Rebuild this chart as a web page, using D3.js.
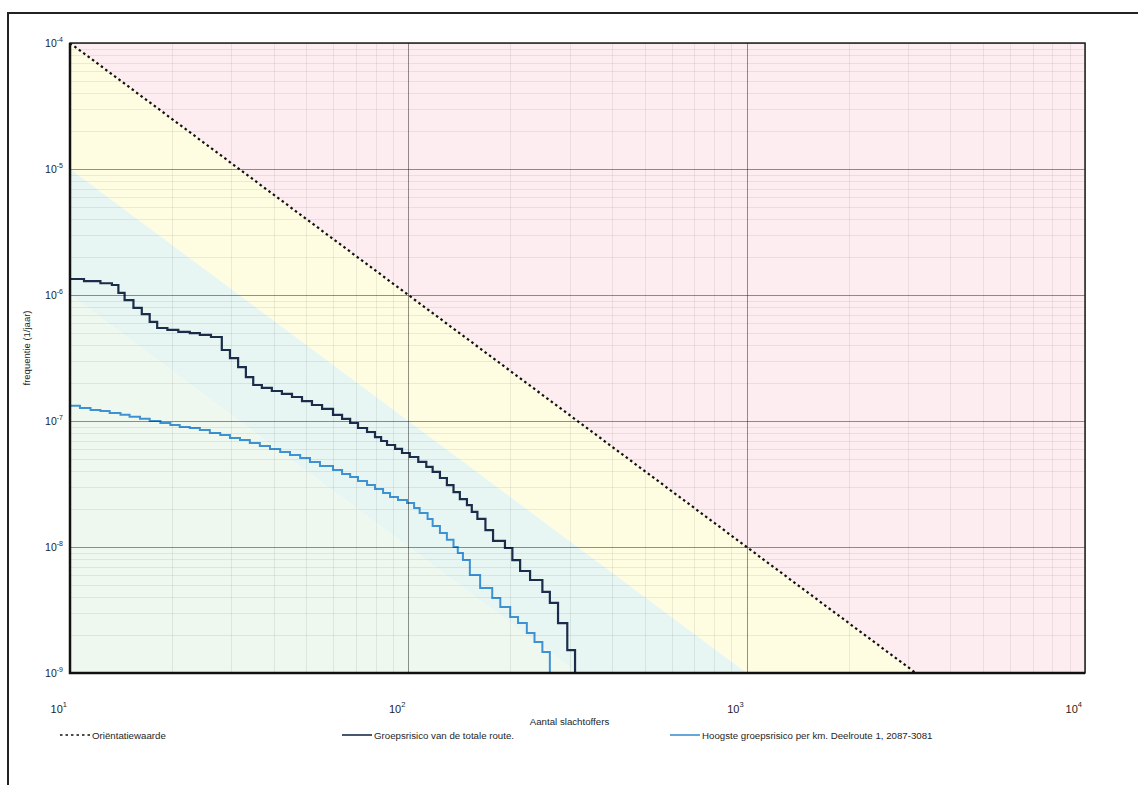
<!DOCTYPE html>
<meta charset="utf-8">
<style>
body { margin: 0; background: #fff; }
text { font-family: "Liberation Sans", Arial, sans-serif; fill: #1e1e1e; }
.grid-minor line { stroke: #000; stroke-opacity: 0.07; shape-rendering: crispEdges; }
.grid-major line { stroke: #000; stroke-opacity: 0.38; shape-rendering: crispEdges; }
.grid-minor path, .grid-major path { stroke-width: 0; }
</style>
<body>
<script src="https://d3js.org/d3.v7.min.js"></script>
<script>
// tick labels
var xTicks = [10, 100, 1000, 10000];
var xTickExp = ["1", "2", "3", "4"];
var yTicks = [1e-4, 1e-5, 1e-6, 1e-7, 1e-8, 1e-9];
var yTickExp = ["-4", "-5", "-6", "-7", "-8", "-9"];

// orientatiewaarde (F = 0.01 / N^2)
var orientN = [10, 100, 1000, 3162];
var orientF = [1e-4, 1e-6, 1e-8, 1e-9];

// coloured zones, limits as F*N^2
var bandConst = [1e-2, 1e-3, 1e-4];
var bandColors = ["#fdedf0", "#fefde2", "#e7f6f3", "#eef8ef"];

// groepsrisico van de totale route
var totalN = [10, 11.0, 12.3, 13.3, 13.9, 14.5, 15.4, 16.3, 17.2, 18.1, 19.4, 20.9, 22.6, 24.2, 26.1,
  28.1, 29.7, 31.4, 33.1, 34.8, 36.9, 39.5, 42.3, 45.3, 48.5, 51.9, 55.6, 59.9, 63.7, 67.3,
  71.0, 75.5, 79.7, 83.1, 86.5, 91.4, 95.8, 101, 107, 113, 118, 124, 130, 136, 142,
  149, 154, 160, 169, 178, 193, 203, 214, 229, 249, 262, 277, 295, 311];
var totalF = [1.34e-6, 1.29e-6, 1.24e-6, 1.20e-6, 1.04e-6, 9.12e-7, 7.89e-7, 7.06e-7, 6.11e-7, 5.47e-7, 5.28e-7, 5.09e-7, 4.99e-7, 4.82e-7, 4.64e-7,
  3.66e-7, 3.16e-7, 2.68e-7, 2.23e-7, 1.93e-7, 1.83e-7, 1.73e-7, 1.64e-7, 1.55e-7, 1.44e-7, 1.34e-7, 1.25e-7, 1.12e-7, 1.04e-7, 9.64e-8,
  8.80e-8, 8.18e-8, 7.46e-8, 6.94e-8, 6.45e-8, 6.00e-8, 5.57e-8, 5.18e-8, 4.73e-8, 4.32e-8, 3.94e-8, 3.53e-8, 3.10e-8, 2.73e-8, 2.40e-8,
  2.15e-8, 1.90e-8, 1.67e-8, 1.36e-8, 1.12e-8, 9.82e-9, 7.88e-9, 6.45e-9, 5.47e-9, 4.40e-9, 3.60e-9, 2.49e-9, 1.52e-9, 1e-9];

// hoogste groepsrisico per km
var kmN = [10, 10.7, 11.5, 12.3, 13.1, 14.1, 15.0, 16.1, 17.2, 18.5, 19.8, 21.1, 22.6, 24.2, 25.9,
  27.8, 29.7, 31.8, 34.0, 36.4, 39.0, 41.8, 44.7, 47.9, 51.2, 54.8, 59.9, 63.7, 67.3, 71.0,
  75.5, 79.7, 84.2, 88.3, 93.2, 99.1, 104, 108, 114, 118, 124, 130, 136, 140, 145,
  152, 163, 177, 187, 200, 211, 224, 236, 249, 262];
var kmF = [1.32e-7, 1.27e-7, 1.22e-7, 1.20e-7, 1.16e-7, 1.12e-7, 1.08e-7, 1.04e-7, 1.00e-7, 9.64e-8, 9.30e-8, 8.96e-8, 8.80e-8, 8.49e-8, 8.03e-8,
  7.74e-8, 7.33e-8, 7.07e-8, 6.68e-8, 6.33e-8, 6.00e-8, 5.67e-8, 5.37e-8, 5.08e-8, 4.73e-8, 4.40e-8, 4.08e-8, 3.79e-8, 3.59e-8, 3.34e-8,
  3.10e-8, 2.88e-8, 2.68e-8, 2.49e-8, 2.36e-8, 2.23e-8, 2.04e-8, 1.86e-8, 1.67e-8, 1.47e-8, 1.29e-8, 1.14e-8, 1.00e-8, 8.96e-9, 7.88e-9,
  6.00e-9, 4.73e-9, 3.94e-9, 3.34e-9, 2.78e-9, 2.49e-9, 2.08e-9, 1.76e-9, 1.47e-9, 1e-9];

var legendLabels = ["Oriëntatiewaarde", "Groepsrisico van de totale route.", "Hoogste groepsrisico per km. Deelroute 1, 2087-3081"];
var legendColors = ["#111", "#1b2d4b", "#3f92d2"];

// dimensions
var margin = {top: 43, right: 53, bottom: 112, left: 70},
    width = 1138 - margin.left - margin.right,
    height = 785 - margin.top - margin.bottom;

var x = d3.scaleLog().domain([10, 10000]).range([0, width]);
var y = d3.scaleLog().domain([1e-9, 1e-4]).range([height, 0]);

var svg = d3.select("body").append("svg")
    .attr("width", 1138)
    .attr("height", 785);

// outer frame (runs off the page on the right and bottom)
svg.append("rect")
    .attr("x", 8).attr("y", 13)
    .attr("width", 1150).attr("height", 800)
    .attr("fill", "none").attr("stroke", "#222").attr("stroke-width", 2);

var g = svg.append("g")
    .attr("transform", "translate(" + margin.left + "," + margin.top + ")");

g.append("clipPath").attr("id", "plot")
  .append("rect").attr("width", width).attr("height", height);

var plot = g.append("g").attr("clip-path", "url(#plot)");

// zones
function bandLine(c) { return [[10, c / 100], [10000, c / 1e8]]; }
var polys = [
  bandLine(bandConst[0]).concat([[10000, 1e-4], [10, 1e-4]]),
  bandLine(bandConst[0]).concat(bandLine(bandConst[1]).reverse()),
  bandLine(bandConst[1]).concat(bandLine(bandConst[2]).reverse()),
  bandLine(bandConst[2]).concat([[10000, 1e-14], [10, 1e-14]])
];
plot.selectAll(".band")
    .data(polys)
  .enter().append("path")
    .attr("class", "band")
    .attr("fill", function(d, i) { return bandColors[i]; })
    .attr("d", function(d) { return "M" + d.map(function(p) { return x(p[0]) + "," + y(p[1]); }).join("L") + "Z"; });

// gridlines
g.append("g").attr("class", "grid-minor")
    .attr("transform", "translate(0," + height + ")")
    .call(d3.axisBottom(x).tickValues(x.ticks()).tickSize(-height).tickFormat(""));
g.append("g").attr("class", "grid-minor")
    .call(d3.axisLeft(y).tickValues(y.ticks()).tickSize(-width).tickFormat(""));
g.append("g").attr("class", "grid-major")
    .attr("transform", "translate(0," + height + ")")
    .call(d3.axisBottom(x).tickValues(xTicks).tickSize(-height).tickFormat(""));
g.append("g").attr("class", "grid-major")
    .call(d3.axisLeft(y).tickValues(yTicks).tickSize(-width).tickFormat(""));

// orientation line
plot.append("path")
    .datum(orientN.map(function(n, i) { return [n, orientF[i]]; }))
    .attr("fill", "none")
    .attr("stroke", "#111")
    .attr("stroke-width", 2.2)
    .attr("stroke-dasharray", "2.5,3")
    .attr("d", d3.line().x(function(d) { return x(d[0]); }).y(function(d) { return y(d[1]); }));

// FN curves
var step = d3.line().curve(d3.curveStepAfter)
    .x(function(d) { return x(d[0]); })
    .y(function(d) { return y(d[1]); });

plot.append("path")
    .datum(kmN.map(function(n, i) { return [n, kmF[i]]; }))
    .attr("fill", "none").attr("stroke", legendColors[2]).attr("stroke-width", 2)
    .attr("d", step);

plot.append("path")
    .datum(totalN.map(function(n, i) { return [n, totalF[i]]; }))
    .attr("fill", "none").attr("stroke", legendColors[1]).attr("stroke-width", 2.2)
    .attr("d", step);

// plot border
g.append("rect")
    .attr("width", width).attr("height", height)
    .attr("fill", "none").attr("stroke", "#222").attr("stroke-width", 1.5);
g.append("path")
    .attr("d", "M0,0V" + height + "H" + width)
    .attr("fill", "none").attr("stroke", "#111").attr("stroke-width", 2.5);

// y tick labels
var yl = g.selectAll(".ylab")
    .data(yTicks)
  .enter().append("text")
    .attr("class", "ylab")
    .attr("x", -7)
    .attr("y", function(d) { return y(d) + 4; })
    .attr("text-anchor", "end")
    .style("font-size", "10.5px");
yl.append("tspan").text("10");
yl.append("tspan")
    .attr("dy", -5)
    .style("font-size", "7px")
    .text(function(d, i) { return yTickExp[i]; });

// x tick labels
var xl = g.selectAll(".xlab")
    .data(xTicks)
  .enter().append("text")
    .attr("class", "xlab")
    .attr("x", function(d) { return x(d) - 3; })
    .attr("y", height + 40)
    .attr("text-anchor", "end")
    .style("font-size", "11px");
xl.append("tspan").text("10");
xl.append("tspan")
    .attr("dy", -6)
    .style("font-size", "7.5px")
    .text(function(d, i) { return xTickExp[i]; });

// axis titles
g.append("text")
    .attr("x", width / 2 - 8)
    .attr("y", height + 52)
    .attr("text-anchor", "middle")
    .style("font-size", "9.7px")
    .text("Aantal slachtoffers");

g.append("text")
    .attr("transform", "rotate(-90)")
    .attr("x", -305)
    .attr("y", -40)
    .attr("text-anchor", "middle")
    .style("font-size", "9.5px")
    .text("frequentie (1/jaar)");

// legend
var legX = [-10, 272, 600];
var leg = g.selectAll(".leg")
    .data(legendLabels)
  .enter().append("g")
    .attr("class", "leg")
    .attr("transform", function(d, i) { return "translate(" + legX[i] + "," + (height + 62) + ")"; });
leg.append("line")
    .attr("x1", 0).attr("x2", 30)
    .attr("stroke", function(d, i) { return legendColors[i]; })
    .attr("stroke-width", 1.6)
    .attr("stroke-dasharray", function(d, i) { return i === 0 ? "2.5,3" : null; });
leg.append("text")
    .attr("x", 32)
    .attr("y", 3.5)
    .style("font-size", "9.7px")
    .text(function(d) { return d; });
</script>
</body>
